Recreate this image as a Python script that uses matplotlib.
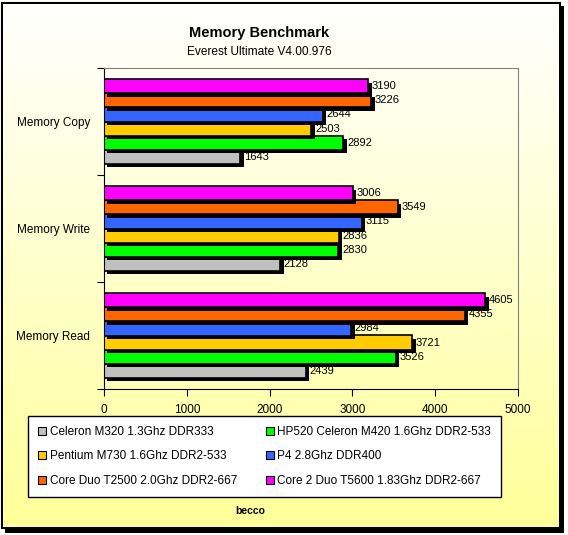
import numpy as np
import matplotlib.pyplot as plt
from matplotlib.patches import Rectangle, Patch
import matplotlib.patheffects as pe

plt.rcParams['font.family'] = ['Liberation Sans', 'DejaVu Sans']

# Data
categories = ["Memory Read", "Memory Write", "Memory Copy"]
series_names = ["Celeron M320 1.3Ghz DDR333",
                "HP520 Celeron M420 1.6Ghz DDR2-533",
                "Pentium M730 1.6Ghz DDR2-533",
                "P4 2.8Ghz DDR400",
                "Core Duo T2500 2.0Ghz DDR2-667",
                "Core 2 Duo T5600 1.83Ghz DDR2-667"]
colors = ["#C0C0C0", "#00FF00", "#FFCC00", "#3366FF", "#FF6600", "#FF00FF"]
celeron = [2439, 2128, 1643]
hp520 = [3526, 2830, 2892]
pentium = [3721, 2836, 2503]
p4 = [2984, 3115, 2644]
core_duo = [4355, 3549, 3226]
core2_duo = [4605, 3006, 3190]
values = [celeron, hp520, pentium, p4, core_duo, core2_duo]

W, H = 568, 535
fig = plt.figure(figsize=(W / 100, H / 100), dpi=100)

# background gradient + frame with shadow
bg = fig.add_axes([0, 0, 1, 1], zorder=-10)
grad = np.linspace(0, 1, 256)[:, None]
top = np.array([1.0, 1.0, 1.0])
bot = np.array([1.0, 1.0, 0.6])
img = np.repeat(top + (bot - top) * grad[:, :, None], 2, axis=1)
bg.add_patch(Rectangle((5 / W, 1 - 533 / H), 559 / W, 527 / H, fc='black', ec='none'))
bg.add_patch(Rectangle((2 / W, 1 - 528 / H), 558 / W, 525 / H, fc='white', ec='black', lw=1.5))
bg.imshow(img, aspect='auto', extent=[3 / W, 559 / W, 1 - 527 / H, 1 - 4 / H], zorder=3)
bg.set_xlim(0, 1)
bg.set_ylim(0, 1)
bg.axis('off')

ax = fig.add_axes([104 / W, 1 - 389 / H, 414 / W, 321 / H])
ax.set_facecolor('none')

bar_h = 0.131
y = np.arange(len(categories))
shadow = [pe.SimplePatchShadow(offset=(2.5, -2.5), shadow_rgbFace='black', alpha=1), pe.Normal()]
for j, (vals, c) in enumerate(zip(values, colors)):
    pos = y + (j - 2.5) * bar_h
    ax.barh(pos, vals, height=bar_h, color=c, edgecolor='black', linewidth=1.2,
            path_effects=shadow)
    for p, v in zip(pos, vals):
        ax.text(v + 45, p, str(v), va='center', ha='left', fontsize=8)

ax.set_xlim(0, 5000)
ax.set_ylim(-0.5, 2.5)
ax.set_xticks(np.arange(0, 5001, 1000))
ax.set_yticks([-0.5, 0.5, 1.5, 2.5])
ax.set_yticklabels([])
ax.set_yticks(y, minor=True)
ax.set_yticklabels(categories, minor=True, fontsize=8.5)
ax.tick_params(axis='y', which='minor', length=0, pad=10)
ax.tick_params(axis='y', which='major', length=5, direction='out', color='black')
ax.tick_params(axis='x', length=5, direction='out', labelsize=8.5, pad=6)
for s in ['top', 'right']:
    ax.spines[s].set_color('#808080')
for s in ['left', 'bottom']:
    ax.spines[s].set_color('black')

fig.text(259 / W, 1 - 33 / H, "Memory Benchmark", ha='center', va='center',
         fontsize=10.5, fontweight='bold')
fig.text(259 / W, 1 - 52 / H, "Everest Ultimate V4.00.976", ha='center', va='center',
         fontsize=8.6)
fig.text(250 / W, 1 - 511 / H, "becco", ha='center', va='center',
         fontsize=7.5, fontweight='bold')

handles = [Patch(fc=c, ec='black', lw=0.8) for c in colors]
order = [0, 2, 4, 1, 3, 5]
leg = fig.legend([handles[i] for i in order], [series_names[i] for i in order],
                 loc='upper left', ncol=2,
                 bbox_to_anchor=(28 / W, 1 - 416 / H),
                 fontsize=8.5, handlelength=0.7, handleheight=0.7, handletextpad=0.3,
                 columnspacing=2.4, fancybox=False, edgecolor='black', framealpha=1,
                 borderpad=0.85, labelspacing=1.05, borderaxespad=0)
leg.get_frame().set_linewidth(1)

fig.savefig('out.png', dpi=100)
